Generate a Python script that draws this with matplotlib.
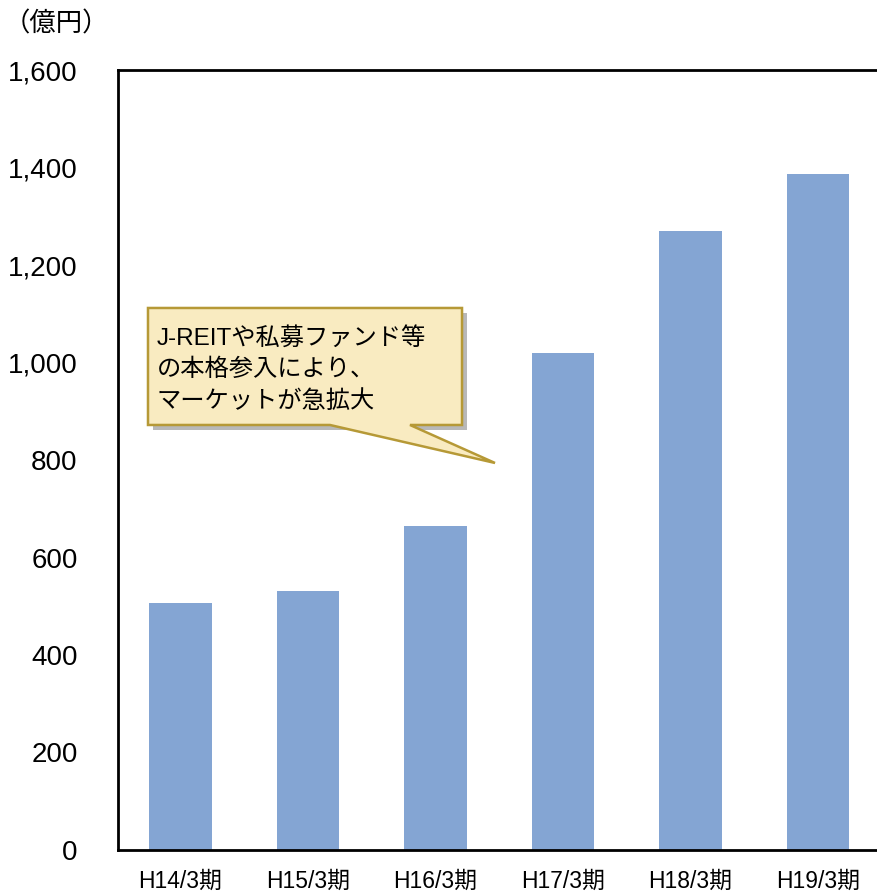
import matplotlib
matplotlib.use("Agg")
import matplotlib.pyplot as plt
from matplotlib.patches import Polygon
import numpy as np

plt.rcParams['font.family'] = ['Liberation Sans', 'Noto Sans CJK JP', 'DejaVu Sans']

periods = ['H14/3期', 'H15/3期', 'H16/3期', 'H17/3期', 'H18/3期', 'H19/3期']
values = [507, 531, 665, 1019, 1270, 1387]
yticks = [0, 200, 400, 600, 800, 1000, 1200, 1400, 1600]
ytick_labels = ['0', '200', '400', '600', '800', '1,000', '1,200', '1,400', '1,600']
note_lines = ['J-REITや私募ファンド等', 'の本格参入により、', 'マーケットが急拡大']

fig = plt.figure(figsize=(8.77, 8.94), dpi=100)
ax = fig.add_axes([118 / 877, 44 / 894, 765 / 877, 780 / 894])

x = np.arange(len(periods))
ax.bar(x, values, width=0.49, color='#84A5D3', zorder=2)

ax.set_xlim(-0.49, len(periods) - 0.49)
ax.set_ylim(0, 1600)
ax.set_yticks(yticks)
ax.set_yticklabels(ytick_labels, fontsize=20)
ax.set_xticks(x)
ax.set_xticklabels(periods, fontsize=16.5)
ax.tick_params(axis='y', length=0, pad=29)
ax.tick_params(axis='x', length=0, pad=14)
for s in ['left', 'top', 'bottom']:
    ax.spines[s].set_linewidth(2)
    ax.spines[s].set_color('black')
ax.spines['right'].set_visible(False)

fig.text(4 / 877, 1 - 24 / 894, '（億円）', fontsize=19, ha='left', va='center')

# callout box with tail, in axes fraction
tr = ax.transAxes
bx0, bx1, by0, by1 = 0.0392, 0.4497, 0.5449, 0.6949
tail_l, tail_r = 0.2771, 0.3817
tip = (0.4928, 0.4962)
dx, dy = 5 / 765, -5 / 780
shadow = Polygon([(bx0 + dx, by1 + dy), (bx1 + dx, by1 + dy), (bx1 + dx, by0 + dy),
                  (bx0 + dx, by0 + dy)], closed=True, transform=tr,
                 facecolor='#A6A6A6', edgecolor='none', alpha=0.8, zorder=3)
ax.add_patch(shadow)
box = Polygon([(bx0, by1), (bx1, by1), (bx1, by0), (tail_r, by0), tip,
               (tail_l, by0), (bx0, by0)], closed=True, transform=tr,
              facecolor='#F9EBC1', edgecolor='#B69936', linewidth=1.8, zorder=4)
ax.add_patch(box)

for i, line in enumerate(note_lines):
    ax.text(bx0 + 9 / 765, by1 - (30 + i * 32) / 780, line, transform=tr,
            fontsize=17.5, ha='left', va='center', zorder=5)

fig.savefig('out.png', dpi=100)
